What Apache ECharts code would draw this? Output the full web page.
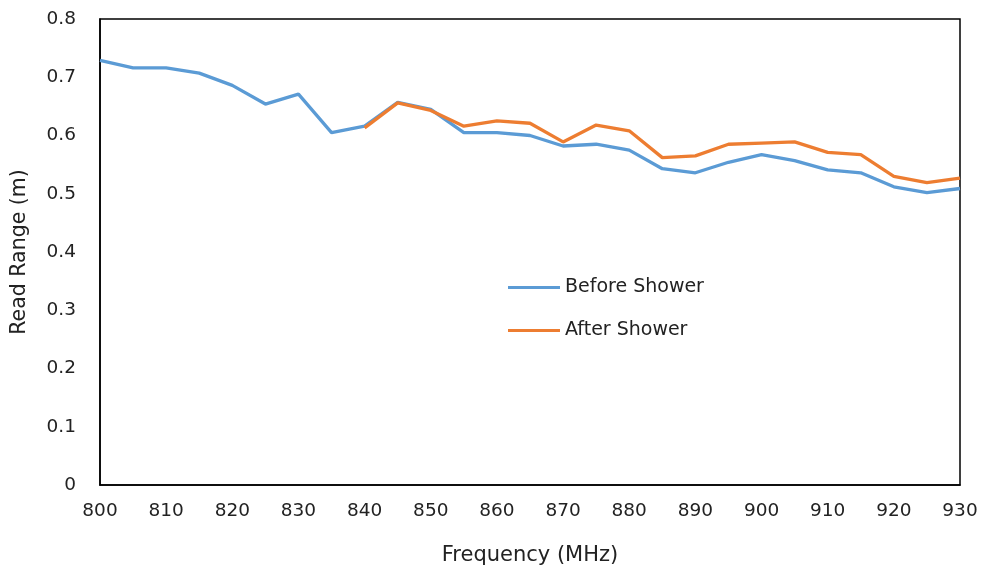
<!DOCTYPE html>
<html>
<head>
<meta charset="utf-8">
<script src="https://cdn.jsdelivr.net/npm/echarts@6/dist/echarts.min.js"></script>
<style>html,body{margin:0;padding:0;background:#fff}#chart{width:985px;height:572px}</style>
</head>
<body>
<div id="chart"></div>
<script>
const frequency = [800,805,810,815,820,825,830,835,840,845,850,855,860,865,870,875,880,885,890,895,900,905,910,915,920,925,930];
const beforeShower = [0.729,0.716,0.716,0.707,0.686,0.654,0.671,0.605,0.616,0.657,0.645,0.605,0.605,0.600,0.582,0.585,0.575,0.543,0.536,0.554,0.567,0.557,0.541,0.536,0.512,0.502,0.509];
const afterShower = [null,null,null,null,null,null,null,null,0.613,0.656,0.643,0.616,0.625,0.621,0.589,0.618,0.608,0.562,0.565,0.585,0.587,0.589,0.571,0.567,0.530,0.519,0.527];
const seriesNames = ['Before Shower','After Shower'];
const xTitle = 'Frequency (MHz)';
const yTitle = 'Read Range (m)';

const pairs = vals => frequency.map((f,i) => [f, vals[i]]);
const font = 'DejaVu Sans';
const chart = echarts.init(document.getElementById('chart'));
chart.setOption({
  animation:false,
  backgroundColor:'#fff',
  grid:{left:100,right:25,top:19,bottom:87,show:true,borderColor:'#000',borderWidth:1.5},
  legend:{
    orient:'vertical', left:503, top:273, itemWidth:52, itemHeight:3, itemGap:24,
    icon:'rect',
    textStyle:{fontFamily:font,fontSize:19,color:'#222'},
    data:seriesNames
  },
  xAxis:{
    type:'value', min:800, max:930, interval:10,
    name:xTitle, nameLocation:'middle', nameGap:60,
    nameTextStyle:{fontFamily:font,fontSize:21,color:'#222'},
    axisLine:{show:true,lineStyle:{color:'#000',width:1.5}},
    axisTick:{show:false}, splitLine:{show:false},
    axisLabel:{fontFamily:font,fontSize:18.5,color:'#222',margin:17}
  },
  yAxis:{
    type:'value', min:0, max:0.8, interval:0.1,
    name:yTitle, nameLocation:'middle', nameGap:70,
    nameTextStyle:{fontFamily:font,fontSize:20.5,color:'#222'},
    axisLine:{show:true,lineStyle:{color:'#000',width:1.5}},
    axisTick:{show:false}, splitLine:{show:false},
    axisLabel:{fontFamily:font,fontSize:18.5,color:'#222',margin:24,
      formatter:v => v===0 ? '0' : v.toFixed(1)}
  },
  series:[
    {name:seriesNames[0],type:'line',data:pairs(beforeShower),showSymbol:false,symbol:'none',
     lineStyle:{color:'#5B9BD5',width:3.3},itemStyle:{color:'#5B9BD5'}},
    {name:seriesNames[1],type:'line',data:pairs(afterShower),showSymbol:false,symbol:'none',
     lineStyle:{color:'#ED7D31',width:3.3},itemStyle:{color:'#ED7D31'}}
  ]
});
</script>
</body>
</html>
